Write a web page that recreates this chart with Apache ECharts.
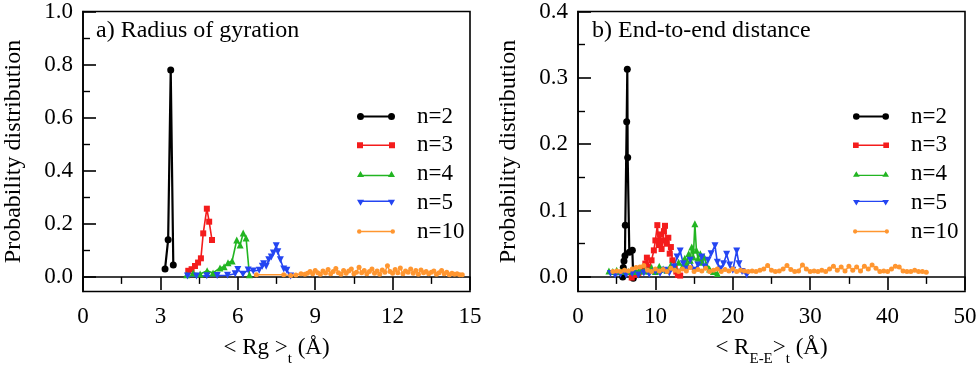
<!DOCTYPE html>
<html><head><meta charset="utf-8">
<script src="https://cdn.jsdelivr.net/npm/echarts@6/dist/echarts.min.js"></script>
<style>html,body{margin:0;padding:0;background:#fff}#c{width:980px;height:375px}</style>
</head><body><div id="c"></div>
<script>
const seriesNames = ['n=2', 'n=3', 'n=4', 'n=5', 'n=10'];
const rgXTicks = [0, 3, 6, 9, 12, 15];
const eeXTicks = [0, 10, 20, 30, 40, 50];
const rgYTicks = [0, 0.2, 0.4, 0.6, 0.8, 1.0];
const rgYMinor = [0.1, 0.3, 0.5, 0.7, 0.9];
const eeYTicks = [0, 0.1, 0.2, 0.3, 0.4];
const eeYMinor = [0.05, 0.15, 0.25, 0.35];

// a) Radius of gyration
const rgN2 = [[3.18, 0.03], [3.30, 0.14], [3.40, 0.78], [3.50, 0.045]];
const rgN3 = [[4.08, 0.023], [4.21, 0.029], [4.34, 0.041], [4.46, 0.054], [4.57, 0.070], [4.66, 0.164], [4.80, 0.257], [4.89, 0.208], [5.00, 0.139]];
const rgN4 = [[4.02, 0.008], [4.27, 0.015], [4.54, 0.011], [4.81, 0.023], [5.04, 0.015], [5.31, 0.034], [5.47, 0.038], [5.62, 0.053], [5.78, 0.060], [5.96, 0.139], [6.09, 0.120], [6.21, 0.165], [6.32, 0.147], [6.45, 0.008]];
const rgN5 = [[4.05, 0.003], [4.4, 0.003], [4.8, 0.004], [5.2, 0.005], [5.6, 0.006], [5.9, 0.012], [6.0, 0.028], [6.2, 0.010], [6.4, 0.026], [6.6, 0.022], [6.83, 0.025], [6.95, 0.040], [7.0, 0.050], [7.1, 0.040], [7.2, 0.065], [7.3, 0.075], [7.38, 0.090], [7.49, 0.117], [7.55, 0.095], [7.65, 0.065], [7.78, 0.030], [7.9, 0.025], [8.05, 0.003]];
const rgN10 = [[6.72, 0.008], [7.78, 0.008], [8.05, 0.005], [8.25, 0.007], [8.45, 0.012], [8.6, 0.010],
  [8.7, 0.014], [8.8, 0.020], [8.9, 0.012], [9.0, 0.024], [9.1, 0.016], [9.2, 0.010], [9.3, 0.022], [9.4, 0.015], [9.5, 0.028], [9.6, 0.012],
  [9.7, 0.020], [9.8, 0.032], [9.9, 0.016], [10.0, 0.010], [10.1, 0.024], [10.2, 0.014], [10.3, 0.022], [10.4, 0.030], [10.5, 0.012], [10.6, 0.018],
  [10.7, 0.036], [10.8, 0.016], [10.9, 0.024], [11.0, 0.012], [11.1, 0.020], [11.2, 0.030], [11.3, 0.014], [11.4, 0.022], [11.5, 0.010], [11.6, 0.026],
  [11.7, 0.018], [11.8, 0.042], [11.9, 0.020], [12.0, 0.014], [12.1, 0.028], [12.2, 0.016], [12.3, 0.034], [12.4, 0.012], [12.5, 0.022], [12.6, 0.018],
  [12.7, 0.030], [12.8, 0.014], [12.9, 0.024], [13.0, 0.010], [13.1, 0.026], [13.2, 0.016], [13.3, 0.020], [13.4, 0.012], [13.5, 0.018], [13.6, 0.022],
  [13.7, 0.010], [13.8, 0.016], [13.9, 0.024], [14.0, 0.012], [14.1, 0.018], [14.2, 0.008], [14.3, 0.014], [14.4, 0.010], [14.5, 0.012], [14.6, 0.008], [14.7, 0.008]];

// b) End-to-end distance
const eeN2 = [[5.78, 0.0], [5.85, 0.014], [5.94, 0.024], [6.07, 0.032], [6.11, 0.078], [6.29, 0.234], [6.37, 0.313], [6.42, 0.180], [6.63, 0.037], [7.02, 0.040], [7.14, -0.002]];
const eeN3 = [[6.94, -0.001], [7.3, 0.003], [7.8, 0.006], [8.3, 0.010], [8.7, 0.020], [8.9, 0.029], [9.2, 0.014], [9.5, 0.025], [9.8, 0.040], [10.0, 0.055], [10.25, 0.078], [10.45, 0.048], [10.6, 0.064], [10.8, 0.042], [11.0, 0.055], [11.1, 0.069], [11.24, 0.077], [11.45, 0.050], [11.67, 0.059], [11.85, 0.035], [12.0, 0.045], [12.2, 0.025], [12.5, 0.015], [12.7, 0.008], [12.9, 0.003], [13.2, 0.002]];
const eeN4 = [[4.0, 0.009], [4.5, 0.008], [5.0, 0.010], [5.5, 0.008], [6.0, 0.009], [6.5, 0.008], [7.0, 0.010], [7.5, 0.008], [8.0, 0.012], [8.5, 0.009], [9.0, 0.010], [9.5, 0.014], [10.0, 0.008], [10.5, 0.016], [11.0, 0.012], [11.5, 0.010], [12.0, 0.018], [12.5, 0.014], [13.0, 0.022], [13.5, 0.016], [13.8, 0.028], [14.0, 0.020], [14.3, 0.035], [14.5, 0.025], [14.7, 0.045], [14.9, 0.030], [15.1, 0.080], [15.3, 0.040], [15.5, 0.028], [15.8, 0.035], [16.0, 0.022], [16.3, 0.030], [16.6, 0.018], [17.0, 0.012], [17.5, 0.008], [18.0, 0.005]];
const eeN5 = [[4.2, 0.005], [4.8, 0.003], [5.5, 0.004], [6.2, 0.003], [7.0, 0.005], [7.8, 0.003], [8.5, 0.006], [9.2, 0.004], [10.0, 0.008], [10.6, 0.005], [11.2, 0.010], [11.8, 0.006], [12.4, 0.015], [12.8, 0.030], [13.2, 0.039], [13.6, 0.020], [14.0, 0.012], [14.5, 0.025], [15.0, 0.010], [15.5, 0.018], [16.0, 0.030], [16.4, 0.015], [16.8, 0.025], [17.2, 0.035], [17.7, 0.047], [18.0, 0.022], [18.4, 0.012], [18.8, 0.020], [19.2, 0.034], [19.6, 0.018], [20.0, 0.010], [20.5, 0.039], [20.8, 0.020], [21.2, 0.008], [21.8, 0.003]];
const eeN10 = [[4.5, 0.008], [5.0, 0.009], [5.5, 0.008], [6.0, 0.010], [6.5, 0.009], [7.0, 0.012], [7.5, 0.014], [8.0, 0.015], [8.5, 0.017], [9.0, 0.010],
  [9.5, 0.008], [10.0, 0.012], [10.5, 0.009], [11.0, 0.011], [11.5, 0.008], [12.0, 0.013], [12.5, 0.010], [13.0, 0.008], [13.5, 0.012], [14.0, 0.009],
  [14.5, 0.014], [15.0, 0.008], [15.5, 0.011], [16.0, 0.009], [16.5, 0.013], [17.0, 0.008], [17.5, 0.010], [18.0, 0.012], [18.5, 0.008], [19.0, 0.011],
  [19.5, 0.009], [20.0, 0.012], [20.5, 0.008], [21.0, 0.010], [21.5, 0.009], [22.0, 0.008], [22.5, 0.009], [23.0, 0.008], [23.5, 0.010], [24.0, 0.012],
  [24.5, 0.017], [25.0, 0.010], [25.5, 0.008], [26.0, 0.009], [26.5, 0.012], [27.0, 0.017], [27.5, 0.011], [28.0, 0.008], [28.5, 0.009], [29.0, 0.018],
  [29.5, 0.012], [30.0, 0.008], [30.5, 0.009], [31.0, 0.008], [31.5, 0.010], [32.0, 0.008], [32.5, 0.012], [33.0, 0.016], [33.5, 0.010], [34.0, 0.015],
  [34.5, 0.009], [35.0, 0.016], [35.5, 0.010], [36.0, 0.015], [36.5, 0.009], [37.0, 0.016], [37.5, 0.012], [38.0, 0.018], [38.5, 0.013], [39.0, 0.008],
  [39.5, 0.009], [40.0, 0.008], [40.5, 0.012], [41.0, 0.016], [41.5, 0.015], [42.0, 0.009], [42.5, 0.008], [43.0, 0.008], [43.5, 0.010], [44.0, 0.008], [44.5, 0.008], [45.0, 0.007]];

const rgData = [rgN2, rgN3, rgN4, rgN5, rgN10];
const eeData = [eeN2, eeN3, eeN4, eeN5, eeN10];

const FONT = 'Liberation Serif';
const colors = ['#000000', '#f41c1c', '#22b522', '#2445f2', '#ff9630'];
const symbols = ['circle', 'rect', 'triangle', 'triangle', 'circle'];
const symRot = [0, 0, 0, 180, 0];
const symSize = [7, 6, 7, 7, 5];
const lineW = [2.2, 1.6, 1.6, 1.6, 1.4];
const icons = [
  'path://M0,3.5 A3.5,3.5 0 1,1 7,3.5 A3.5,3.5 0 1,1 0,3.5 Z M31,3.5 A3.5,3.5 0 1,1 38,3.5 A3.5,3.5 0 1,1 31,3.5 Z M3.5,2.5 L34.5,2.5 L34.5,4.5 L3.5,4.5 Z',
  'path://M0,0 L6,0 L6,6 L0,6 Z M32,0 L38,0 L38,6 L32,6 Z M3,2.2 L35,2.2 L35,3.8 L3,3.8 Z',
  'path://M0,6 L3.5,0 L7,6 Z M31,6 L34.5,0 L38,6 Z M3.5,3.8 L34.5,3.8 L34.5,5.2 L3.5,5.2 Z',
  'path://M0,0 L7,0 L3.5,6 Z M31,0 L38,0 L34.5,6 Z M3.5,0.8 L34.5,0.8 L34.5,2.2 L3.5,2.2 Z',
  'path://M0,2.25 A2.25,2.25 0 1,1 4.5,2.25 A2.25,2.25 0 1,1 0,2.25 Z M33.5,2.25 A2.25,2.25 0 1,1 38,2.25 A2.25,2.25 0 1,1 33.5,2.25 Z M2.25,1.55 L35.75,1.55 L35.75,2.95 L2.25,2.95 Z'
];

const txt = {fontFamily: FONT, fontSize: 23, color: '#000'};
const txtBig = {fontFamily: FONT, fontSize: 24, color: '#000'};
const axLine = {show: true, lineStyle: {color: '#000', width: 1.6}};

function xAxis(grid, max, interval, name) {
  return {
    type: 'value', gridIndex: grid, min: 0, max: max, interval: interval,
    axisLine: axLine,
    axisTick: {show: true, inside: false, length: 13, lineStyle: {color: '#000', width: 1.6}},
    minorTick: {show: true, splitNumber: 2, length: 7, lineStyle: {color: '#000', width: 1.4}},
    splitLine: {show: false}, minorSplitLine: {show: false},
    axisLabel: Object.assign({margin: 14}, txt),
    name: name, nameLocation: 'middle', nameGap: 45,
    nameTextStyle: Object.assign({}, txtBig, {rich: {
      m: {fontFamily: FONT, fontSize: 23, color: '#000', verticalAlign: 'top', lineHeight: 24},
      s: {fontFamily: FONT, fontSize: 15, color: '#000', verticalAlign: 'top', lineHeight: 16, padding: [15, 0, 0, 0]}
    }})
  };
}
function yMain(grid, min, max, ticks) {
  return {
    type: 'value', gridIndex: grid, min: min, max: max, position: 'left',
    axisLine: axLine,
    axisTick: {show: true, inside: true, length: 13, customValues: ticks, lineStyle: {color: '#000', width: 1.6}},
    axisLabel: Object.assign({margin: 10, customValues: ticks, formatter: v => v.toFixed(1)}, txt),
    splitLine: {show: false},
    name: 'Probability distribution', nameLocation: 'middle', nameGap: 57,
    nameTextStyle: txtBig
  };
}
function yMinor(grid, min, max, ticks) {
  return {
    type: 'value', gridIndex: grid, min: min, max: max, position: 'left',
    axisLine: {show: false},
    axisTick: {show: true, inside: true, length: 7, customValues: ticks, lineStyle: {color: '#000', width: 1.4}},
    axisLabel: {show: false}, splitLine: {show: false}
  };
}

const series = [];
seriesNames.forEach((nm, i) => {
  [[rgData[i], 0, 0], [eeData[i], 1, 2]].forEach(([d, xi, yi]) => {
    series.push({
      name: nm, type: 'line', xAxisIndex: xi, yAxisIndex: yi, data: d,
      symbol: symbols[i], symbolRotate: symRot[i], symbolSize: symSize[i],
      showAllSymbol: true, animation: false,
      lineStyle: {color: colors[i], width: lineW[i]},
      itemStyle: {color: colors[i], borderWidth: 0}
    });
  });
});

function legend(left, width) {
  return {
    orient: 'vertical', left: left, top: 100, itemWidth: width, itemHeight: 8, itemGap: 5.75,
    symbolKeepAspect: true,
    textStyle: Object.assign({lineHeight: 20, padding: [0, 0, 0, 17]}, txt),
    itemStyle: {borderWidth: 0},
    data: seriesNames.map((n, i) => ({name: n, icon: icons[i]}))
  };
}

const chart = echarts.init(document.getElementById('c'), null, {renderer: 'canvas'});
chart.setOption({
  backgroundColor: '#fff',
  animation: false,
  grid: [
    {left: 83, top: 11.5, width: 387, height: 280, show: true, borderColor: '#000', borderWidth: 1.6, backgroundColor: 'transparent'},
    {left: 578, top: 11.5, width: 387, height: 280, show: true, borderColor: '#000', borderWidth: 1.6, backgroundColor: 'transparent'}
  ],
  title: [
    {text: 'a) Radius of gyration', left: 91, top: 14, textStyle: Object.assign({fontWeight: 'normal'}, txtBig)},
    {text: 'b) End-to-end distance', left: 587, top: 14, textStyle: Object.assign({fontWeight: 'normal'}, txtBig)}
  ],
  legend: [legend(352, 38), legend(848, 36)],
  xAxis: [
    xAxis(0, 15, 3, '{m|< Rg >}{s|t}{m| (Å)}'),
    xAxis(1, 50, 10, '{m|< R}{s|E-E}{m|>}{s|t}{m| (Å)}')
  ],
  yAxis: [
    yMain(0, -0.055, 1.0, rgYTicks),
    yMinor(0, -0.055, 1.0, rgYMinor),
    yMain(1, -0.022, 0.4, eeYTicks),
    yMinor(1, -0.022, 0.4, eeYMinor)
  ],
  series: series
});
</script>
</body></html>
